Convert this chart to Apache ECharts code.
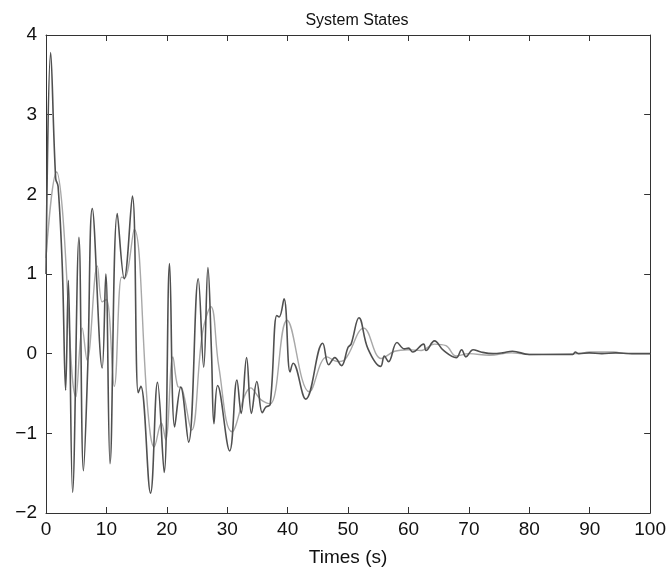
<!DOCTYPE html>
<html>
<head>
<meta charset="utf-8">
<script src="https://cdn.jsdelivr.net/npm/echarts@6/dist/echarts.min.js"></script>
<style>html,body{margin:0;padding:0;background:#fff}#c{width:669px;height:575px}</style>
</head>
<body>
<div id="c"></div>
<script>
var xTicks = [0,10,20,30,40,50,60,70,80,90,100];
var yTicks = [-2,-1,0,1,2,3,4];

var tDark = [0,0.77,1.6,2.0,2.7,3.25,3.7,4.4,5.45,6.2,6.9,7.66,9.3,9.9,10.6,11.8,12.95,14.3,15.26,15.7,17.3,18.46,19.56,20.45,21.3,22.3,23.6,25.2,26.1,26.8,27.4,27.8,28.4,30.4,31.6,32.3,33.2,34.0,34.9,35.8,36.4,37.1,38.2,38.6,39.4,40.4,40.9,43.0,45.8,46.8,47.8,48.9,50.0,50.5,51.8,53.3,55.4,56.0,56.7,58.1,59.3,60.0,60.7,62.5,62.9,64.3,65.8,67.9,68.8,69.5,70.7,72,74,75.6,77.2,80,87.2,87.6,88.2,89.9,92,94.3,97,100];
var vDark = [1.0,3.78,2.2,2.1,1.08,-0.46,0.92,-1.74,1.46,-1.47,-0.19,1.82,-0.18,1.0,-1.38,1.76,0.94,1.98,-0.49,-0.41,-1.75,-0.36,-1.49,1.13,-0.92,-0.42,-1.11,0.94,-0.17,1.08,0.0,-0.88,-0.40,-1.22,-0.33,-0.75,-0.05,-0.75,-0.35,-0.74,-0.67,-0.64,0.48,0.46,0.69,-0.23,-0.12,-0.57,0.13,-0.14,-0.05,-0.15,0.08,0.12,0.45,0.06,-0.16,-0.03,-0.1,0.14,0.06,0.07,0.02,0.12,0.04,0.16,0.04,-0.05,0.05,-0.04,0.05,0.02,0.0,0.01,0.03,-0.01,-0.01,0.02,0.0,0.01,0.0,0.01,0.0,0.0];

var tGrey = [0,1.76,2.7,4.96,6.0,6.8,8.5,9.3,10.0,11.3,12.5,13.0,14.6,16.9,17.9,19.1,19.8,21.0,21.8,22.5,24.1,25.9,27.3,28.6,30.8,33.9,35.6,37.1,39.9,43.6,46.5,48.3,49.4,52.6,55.5,57.7,59.9,62.1,64.3,66.2,67.9,70,73.4,77,80,88,90,92,94,96,100];
var vGrey = [1.2,2.28,1.82,-0.54,0.32,-0.08,1.1,0.65,0.68,-0.41,0.96,0.95,1.56,-0.75,-1.17,-0.87,-1.08,-0.04,-0.41,-0.43,-0.96,0.26,0.59,-0.16,-0.98,-0.43,-0.58,-0.63,0.42,-0.48,-0.04,-0.1,-0.08,0.32,-0.06,0.03,0.05,0.04,0.12,0.1,-0.03,0.0,-0.02,0.01,-0.01,0.0,0.02,0.02,0.02,0.0,0.0];

function pairs(t, v){ return t.map(function(x,i){ return [x, v[i]]; }); }

var font = 'Liberation Sans, Arial, Helvetica, sans-serif';
var axisLineStyle = {color:'#333', width:1};
function fmt(v){ return String(v).replace('-', '\u2212'); }

var chart = echarts.init(document.getElementById('c'), null, {renderer:'canvas'});
chart.setOption({
  animation:false,
  backgroundColor:'#fff',
  title:{text:'System States', left:352, top:8, textAlign:'center',
    textStyle:{fontFamily:font, fontSize:16, fontWeight:'normal', color:'#111'}},
  grid:{left:46, right:18, top:35, bottom:62},
  xAxis:[
    {type:'value', min:0, max:100, interval:10, position:'bottom',
     name:'Times (s)', nameLocation:'middle', nameGap:35,
     nameTextStyle:{fontFamily:font, fontSize:19, color:'#111'},
     axisLine:{show:true, onZero:false, lineStyle:axisLineStyle},
     axisTick:{show:true, inside:true, length:6, lineStyle:axisLineStyle},
     axisLabel:{fontFamily:font, fontSize:19, color:'#111', margin:7, formatter:fmt},
     splitLine:{show:false}},
    {type:'value', min:0, max:100, interval:10, position:'top',
     axisLine:{show:true, onZero:false, lineStyle:axisLineStyle},
     axisTick:{show:true, inside:true, length:6, lineStyle:axisLineStyle},
     axisLabel:{show:false}, splitLine:{show:false}}
  ],
  yAxis:[
    {type:'value', min:-2, max:4, interval:1, position:'left',
     axisLine:{show:true, onZero:false, lineStyle:axisLineStyle},
     axisTick:{show:true, inside:true, length:6, lineStyle:axisLineStyle},
     axisLabel:{fontFamily:font, fontSize:19, color:'#111', margin:9, formatter:fmt},
     splitLine:{show:false}},
    {type:'value', min:-2, max:4, interval:1, position:'right',
     axisLine:{show:true, onZero:false, lineStyle:axisLineStyle},
     axisTick:{show:true, inside:true, length:6, lineStyle:axisLineStyle},
     axisLabel:{show:false}, splitLine:{show:false}}
  ],
  series:[
    {type:'line', data:pairs(tGrey, vGrey), smooth:0.4, showSymbol:false,
     lineStyle:{color:'#a8a8a8', width:1.4}, z:2},
    {type:'line', data:pairs(tDark, vDark), smooth:0.4, showSymbol:false,
     lineStyle:{color:'#505050', width:1.6}, z:3}
  ]
});
</script>
</body>
</html>
